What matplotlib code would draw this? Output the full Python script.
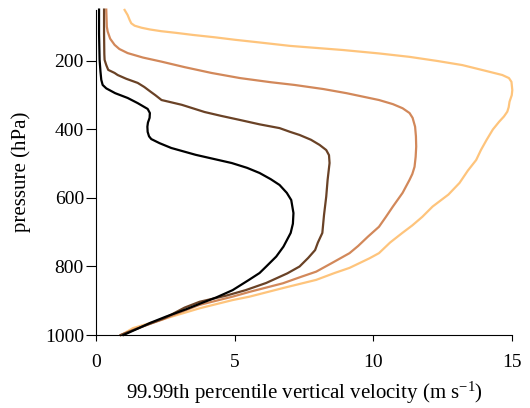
import matplotlib
matplotlib.use("Agg")
import matplotlib.pyplot as plt

plt.rcParams['font.family'] = ['Liberation Serif', 'DejaVu Serif']
plt.rcParams['mathtext.fontset'] = 'custom'
plt.rcParams['mathtext.rm'] = 'Liberation Serif'
plt.rcParams['mathtext.it'] = 'Liberation Serif:italic'

# black curve
p_black = [50, 120, 197, 230, 255, 270, 280, 294, 308, 323, 340, 352, 366, 380, 392, 407, 420, 428, 440, 454,
           474, 498, 512, 527, 545, 562, 585, 606, 644, 675, 702, 742, 771, 800, 819, 840, 869, 890, 907, 925,
           946, 965, 980, 1000]
w_black = [0.12, 0.12, 0.14, 0.17, 0.2, 0.25, 0.38, 0.7, 1.15, 1.51, 1.87, 1.95, 1.94, 1.88, 1.86, 1.87, 1.92, 2.0, 2.3, 2.72,
           3.6, 4.9, 5.45, 5.9, 6.3, 6.62, 6.88, 7.04, 7.12, 7.1, 7.02, 6.76, 6.5, 6.14, 5.9, 5.5, 4.93, 4.35, 3.8, 3.25,
           2.54, 1.95, 1.55, 1.0]

# dark brown curve
p_dbrown = [50, 120, 180, 197, 212, 226, 235, 241, 252, 264, 276, 290, 300, 314, 328, 349, 360, 372, 385, 396,
            407, 416, 430, 445, 460, 475, 498, 547, 596, 650, 702, 730, 752, 775, 800, 820, 848, 869, 885, 903,
            920, 950, 975, 1000]
w_dbrown = [0.3, 0.3, 0.31, 0.32, 0.38, 0.45, 0.68, 0.79, 1.1, 1.51, 1.75, 1.98, 2.15, 2.37, 3.1, 3.92, 4.5, 5.18, 5.9, 6.62,
            7.0, 7.34, 7.75, 8.06, 8.3, 8.4, 8.42, 8.35, 8.3, 8.22, 8.16, 8.0, 7.9, 7.65, 7.34, 6.9, 6.14, 5.4, 4.7, 3.74,
            3.2, 2.5, 1.7, 0.9]

# tan curve
p_tan = [50, 100, 114, 135, 153, 165, 177, 190, 202, 218, 235, 250, 262, 270, 282, 294, 314, 326, 338, 352,
         366, 392, 420, 450, 480, 509, 530, 547, 585, 625, 655, 684, 713, 740, 761, 790, 815, 830, 849, 874,
         888, 912, 935, 955, 980, 1000]
w_tan = [0.38, 0.4, 0.43, 0.52, 0.68, 0.85, 1.15, 1.7, 2.37, 3.2, 4.17, 5.2, 6.3, 7.16, 8.2, 9.03, 10.2, 10.7, 11.05, 11.3,
         11.41, 11.5, 11.53, 11.54, 11.52, 11.48, 11.4, 11.3, 11.05, 10.7, 10.45, 10.2, 9.8, 9.45, 9.14, 8.5, 7.94, 7.4, 6.74, 5.54,
         4.93, 3.74, 3.0, 2.4, 1.5, 0.9]

# light orange curve
p_orange = [51, 66, 80, 90, 97, 103, 108, 113, 118, 124, 131, 138, 146, 156, 168, 178, 188, 200, 212, 228,
            241, 250, 261, 285, 300, 319, 335, 348, 362, 377, 400, 431, 460, 489, 520, 556, 590, 625, 655, 680,
            702, 730, 761, 776, 804, 819, 839, 863, 888, 898, 922, 951, 980, 1000]
w_orange = [1.04, 1.15, 1.22, 1.28, 1.4, 1.65, 1.95, 2.35, 2.9, 3.5, 4.3, 5.0, 5.9, 7.0, 8.9, 10.2, 11.3, 12.3, 13.2, 14.0,
            14.64, 14.88, 14.97, 15.0, 14.98, 14.9, 14.87, 14.82, 14.7, 14.53, 14.3, 14.07, 13.87, 13.7, 13.4, 13.1, 12.7, 12.13, 11.76, 11.4,
            11.04, 10.6, 10.2, 9.86, 9.14, 8.6, 7.94, 6.74, 5.54, 4.93, 3.74, 2.54, 1.34, 0.92]

xticks = [0, 5, 10, 15]
yticks = [200, 400, 600, 800, 1000]

fig = plt.figure(figsize=(5.30, 4.08), dpi=100)
ax = fig.add_axes([0.1806, 0.1789, 0.786, 0.7976])

ax.plot(w_orange, p_orange, color='#fec47c', lw=1.6, clip_on=False, solid_joinstyle='round')
ax.plot(w_tan, p_tan, color='#d2885a', lw=1.6, clip_on=False, solid_joinstyle='round')
ax.plot(w_dbrown, p_dbrown, color='#6a4226', lw=1.6, clip_on=False, solid_joinstyle='round')
ax.plot(w_black, p_black, color='black', lw=1.6, clip_on=False, solid_joinstyle='round')

ax.set_xlim(0, 15)
ax.set_ylim(1000, 50)
ax.set_xticks(xticks)
ax.set_yticks(yticks)
ax.spines['top'].set_visible(False)
ax.spines['right'].set_visible(False)
ax.tick_params(axis='x', direction='out', length=4, pad=10, labelsize=14)
ax.tick_params(axis='y', direction='out', length=7, pad=1.5, labelsize=14)
ax.set_xlabel('99.99th percentile vertical velocity (m s$^{-1}$)', fontsize=15, labelpad=6)
ax.set_ylabel('pressure (hPa)', fontsize=15, labelpad=10)

fig.savefig('out.png', dpi=100)
